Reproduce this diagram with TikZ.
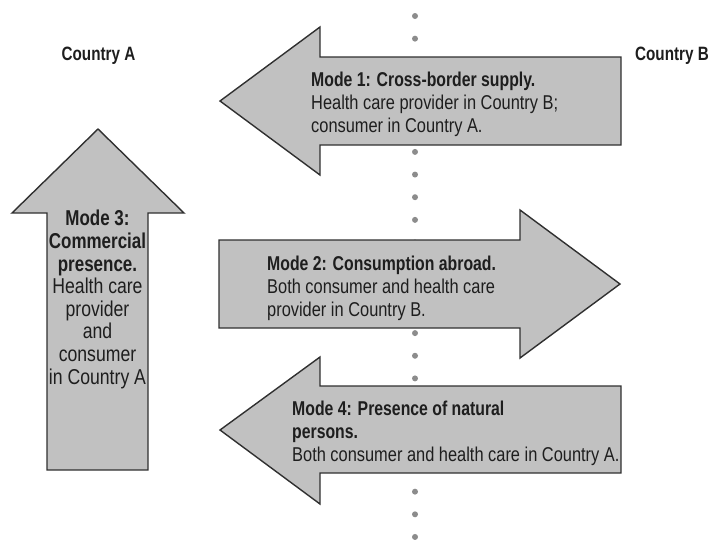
\documentclass[tikz,border=0pt]{standalone}
\usepackage{fontspec}
\setmainfont{Liberation Sans}[FakeStretch=0.82,BoldFeatures={FakeStretch=0.79}]
\definecolor{arrowfill}{RGB}{193,193,193}
\definecolor{arrowline}{RGB}{48,48,48}
\definecolor{dotgray}{RGB}{140,140,140}
\definecolor{txt}{RGB}{30,30,30}
\begin{document}
\begin{tikzpicture}[x=1pt,y=-1pt,
  bigarrow/.style={fill=arrowfill,draw=arrowline,line width=1.4pt,line join=miter},
  dot/.style={fill=dotgray,draw=none},
  modetext/.style={inner sep=0pt,align=left,text=txt,font=\fontsize{20}{23}\selectfont},
  mode3text/.style={inner sep=0pt,align=center,text=txt,font=\fontsize{21.5}{22.6}\selectfont},
  country/.style={inner sep=0pt,text=txt,font=\fontsize{19.3}{22}\selectfont\bfseries}]
\useasboundingbox (0,0) rectangle (709,539);
% dotted border line
\foreach \k in {0,...,23}{
  \fill[dot] (415,{16+22.65*\k}) circle (3);
}
% Mode 1 arrow (left)
\draw[bigarrow] (220,101) -- (320,27) -- (320,57) -- (621,57) -- (621,145) -- (320,145) -- (320,175) -- cycle;
% Mode 2 arrow (right)
\draw[bigarrow] (219,240) -- (520,240) -- (520,210) -- (620,284) -- (520,358) -- (520,328) -- (219,328) -- cycle;
% Mode 4 arrow (left)
\draw[bigarrow] (220,430) -- (320,357) -- (320,386) -- (621,386) -- (621,473) -- (320,473) -- (320,504) -- cycle;
% Mode 3 arrow (up)
\draw[bigarrow] (98,129) -- (184,213) -- (148,213) -- (148,470) -- (47,470) -- (47,213) -- (12,213) -- cycle;
% labels
\node[country,anchor=base] (ca) at (98.5,60.7) {Country A};
\node[country,anchor=base] (cb) at (672,60.7) {Country B};
\node[modetext,anchor=north west] (m1) at (311,72)
  {\textbf{Mode 1: Cross-border supply.}\\Health care provider in Country B;\\consumer in Country A.};
\node[modetext,anchor=north west] (m2) at (267,255.4)
  {\textbf{Mode 2: Consumption abroad.}\\Both consumer and health care\\provider in Country B.};
\node[modetext,anchor=north west] (m4) at (292,401.1)
  {\textbf{Mode 4: Presence of natural}\\\textbf{persons.}\\Both consumer and health care in Country A.};
\node[mode3text,anchor=north] (m3) at (97.5,210.2)
  {\textbf{Mode 3:}\\\textbf{Commercial}\\\textbf{presence.}\\Health care\\provider\\and\\consumer\\in Country A};
\end{tikzpicture}
\end{document}
